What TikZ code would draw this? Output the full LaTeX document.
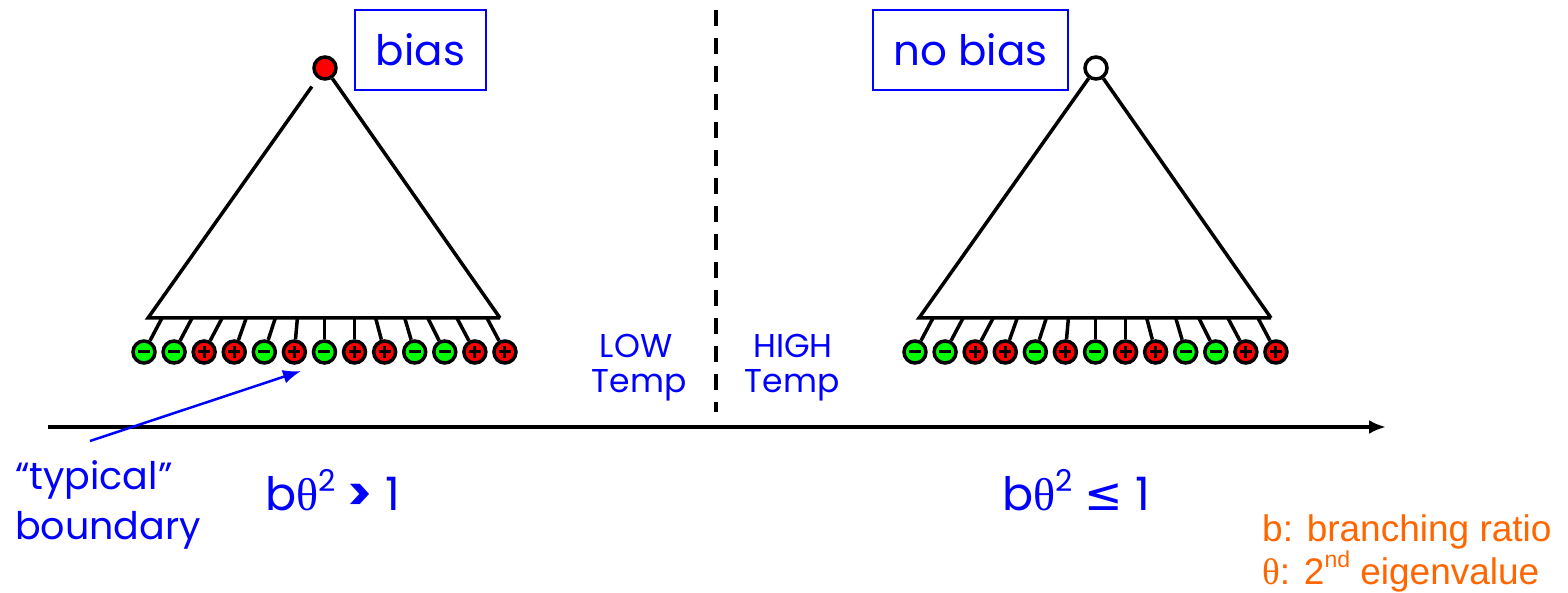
\documentclass[tikz,border=0pt]{standalone}
\usepackage{fontspec}
\setmainfont{Poppins}
\newfontfamily\arialf{Liberation Sans}
\newfontfamily\tmsf{Liberation Serif}
\newfontfamily\djvf{DejaVu Sans}
\usetikzlibrary{arrows.meta}
\definecolor{lgreen}{RGB}{0,255,0}
\definecolor{lred}{RGB}{255,0,0}
\definecolor{lblue}{RGB}{0,0,255}
\definecolor{lorange}{RGB}{255,102,0}
\tikzset{
  edge/.style={line width=3.5pt, line join=miter},
  stem/.style={line width=3.5pt},
  rootnode/.style={circle, draw=black, line width=3.5pt, minimum size=22pt, inner sep=0pt},
  leaf/.style={circle, draw=black, line width=3.5pt, minimum size=22pt, inner sep=0pt},
  leafn/.style={leaf, fill=lgreen, path picture={
      \draw[line width=3pt] ([xshift=-6pt]path picture bounding box.center) -- ([xshift=6pt]path picture bounding box.center);}},
  leafp/.style={leaf, fill=lred, path picture={
      \draw[line width=3pt] ([xshift=-6pt]path picture bounding box.center) -- ([xshift=6pt]path picture bounding box.center)
        ([yshift=-6pt]path picture bounding box.center) -- ([yshift=6pt]path picture bounding box.center);}},
  biasbox/.style={draw=lblue, line width=1.5pt, text=lblue, minimum height=80pt, inner sep=0pt,
      font=\fontsize{42}{50}\selectfont},
  bluetext/.style={text=lblue, inner sep=0pt},
  temptext/.style={bluetext, anchor=base, font=\fontsize{33}{38}\selectfont},
  bigtext/.style={bluetext, anchor=base west, font=\fontsize{38}{46}\selectfont},
  condtext/.style={bluetext, anchor=base west, font=\fontsize{46}{52}\selectfont},
  orangetext/.style={text=lorange, inner sep=0pt, anchor=base west, font=\arialf\fontsize{37}{42}\selectfont},
  axis/.style={line width=3.5pt, -{Latex[length=17pt,width=14pt]}},
  divider/.style={line width=4pt, dash pattern=on 16pt off 12pt},
  pointer/.style={draw=lblue, line width=2.5pt, -{Latex[length=18pt,width=14pt]}}
}
\newcommand\mytree[4]{%
  \node[rootnode, fill=#3] (#1r) at (#2+325,68) {};
  \coordinate (#1tl) at (#2+148,318);
  \coordinate (#1tr) at (#2+500,318);
  \draw[edge, shorten >=#4] (#1tr) -- (#1tl) -- (#1r);
  \draw[edge] (#1r) -- (#1tr);
  \foreach \s/\d [count=\i] in {n/18,n/18,p/18,p/12,n/11,p/3,n/0,p/0,p/-9,n/-10,n/-17,p/-18,p/-18}{
    \pgfmathsetmacro\lx{#2+144+30.08*(\i-1)}
    \pgfmathsetmacro\bx{\lx+\d}
    \node[leaf\s] (#1l\i) at (\lx,352) {};
    \coordinate (#1b\i) at (\bx,318);
    \draw[stem] (#1b\i) -- (#1l\i);
  }
}
\begin{document}
\begin{tikzpicture}[x=1pt,y=-1pt]
\useasboundingbox (0,0) rectangle (1568,593);
% trees
\mytree{A}{0}{lred}{10pt}
\mytree{B}{771}{white}{0pt}
% boxes
\node[biasbox, minimum width=131pt] (bias) at (420.5,50) {bias};
\node[biasbox, minimum width=195pt] (nobias) at (970.5,50) {no bias};
% divider
\coordinate (dtop) at (716,10);
\coordinate (dbot) at (716,412);
\draw[divider] (dtop) -- (dbot);
% temp labels
\node[temptext] (low1) at (636,357) {LOW};
\node[temptext] (low2) at (639,392) {Temp};
\node[temptext] (high1) at (793,357) {HIGH};
\node[temptext] (high2) at (792,392) {Temp};
% axis
\coordinate (ax0) at (48,427);
\coordinate (ax1) at (1386,427);
\draw[axis] (ax0) -- (ax1);
% typical boundary
\node[bigtext] (typ1) at (15,489) {“typical”};
\node[bigtext] (typ2) at (15,539) {boundary};
\coordinate (ptail) at (90,441);
\coordinate (phead) at (301,371);
\draw[pointer] (ptail) -- (phead);
% conditions
\node[condtext] (cond1) at (265,510) {b{\tmsf θ}\raisebox{0.4em}{\fontsize{30}{32}\selectfont 2} \textbf{>} 1};
\node[condtext] (cond2) at (1002,510) {b{\tmsf θ}\raisebox{0.4em}{\fontsize{30}{32}\selectfont 2} {\djvf ≤} 1};
% legend
\node[orangetext] (leg1) at (1262,541) {b: branching ratio};
\node[orangetext] (leg2) at (1262,584) {{\tmsf θ}: 2\raisebox{0.45em}{\fontsize{23}{25}\selectfont nd} eigenvalue};
\end{tikzpicture}
\end{document}
